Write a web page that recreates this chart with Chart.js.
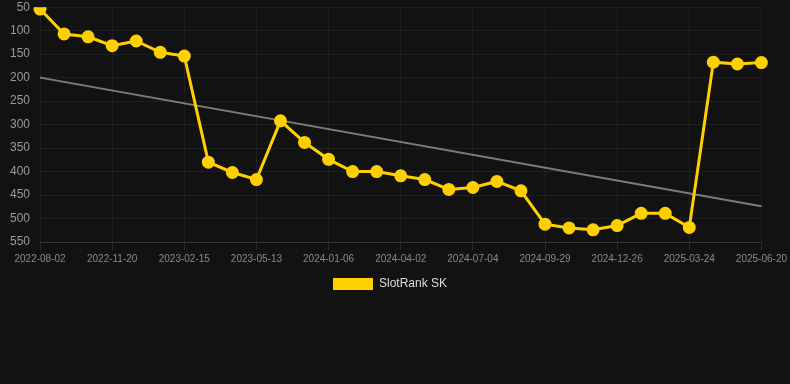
<!DOCTYPE html>
<html>
<head>
<meta charset="utf-8">
<script src="https://cdn.jsdelivr.net/npm/chart.js@4"></script>
<style>
  html, body { margin: 0; padding: 0; background: #121212; }
  #wrap { width: 790px; height: 300px; position: relative; }
</style>
</head>
<body>
<div id="wrap"><canvas id="rank-chart"></canvas></div>
<script>
var dates = [
    '2022-08-02', '2022-09-08', '2022-10-15', '2022-11-20', '2022-12-19', '2023-01-17',
    '2023-02-15', '2023-03-16', '2023-04-14', '2023-05-13', '2023-07-30', '2023-10-18',
    '2024-01-06', '2024-02-04', '2024-03-04', '2024-04-02', '2024-05-03', '2024-06-03',
    '2024-07-04', '2024-08-02', '2024-08-31', '2024-09-29', '2024-10-28', '2024-11-27',
    '2024-12-26', '2025-01-24', '2025-02-22', '2025-03-24', '2025-04-22', '2025-05-21',
    '2025-06-20'
];
var ranks = [
    54, 107, 113, 132, 122, 146,
    154, 380, 402, 417, 292, 338,
    374, 400, 400, 409, 417, 438,
    434, 421, 441, 512, 520, 524,
    515, 489, 489, 519, 167, 171,
    168
];
// trend line: only the two end points, the rest is spanned
var trend = [200];
for (var i = 1; i < dates.length - 1; i++) trend.push(null);
trend.push(474);

var yTicks = { min: 50, max: 550, step: 50 };

var ctx = document.getElementById('rank-chart');

var chart = new Chart(ctx, {
    type: 'line',
    data: {
        labels: dates,
        datasets: [{
            label: 'SlotRank SK',
            data: ranks,
            borderColor: '#ffd000',
            backgroundColor: '#ffd000',
            borderWidth: 3,
            pointRadius: 5,
            pointHoverRadius: 6,
            tension: 0
        }, {
            label: 'trend',
            data: trend,
            spanGaps: true,
            borderColor: 'rgba(160,160,160,0.75)',
            borderWidth: 2,
            pointRadius: 0,
            tension: 0
        }]
    },
    options: {
        animation: false,
        responsive: true,
        maintainAspectRatio: false,
        layout: { autoPadding: false, padding: { left: 10, right: 20, top: 0 } },
        plugins: {
            legend: {
                display: true,
                position: 'bottom',
                labels: {
                    color: '#dddddd',
                    boxWidth: 40,
                    boxHeight: 12,
                    font: { size: 12, family: 'Arial, "Liberation Sans", sans-serif' },
                    generateLabels: function(chart){
                        var items = Chart.defaults.plugins.legend.labels.generateLabels(chart);
                        items.forEach(function(it){ it.lineWidth = 0; });
                        return items.filter(function(it){ return it.datasetIndex === 0; });
                    }
                }
            },
            tooltip: { enabled: false }
        },
        scales: {
            x: {
                grid: { color: 'rgba(255,255,255,0.06)', tickColor: 'rgba(255,255,255,0.1)' },
                border: { color: 'rgba(255,255,255,0.1)' },
                ticks: {
                    color: '#8a8a8a',
                    autoSkip: false,
                    maxRotation: 0,
                    font: { size: 10, family: 'Arial, "Liberation Sans", sans-serif' },
                    callback: function(value, index){
                        return index % 3 === 0 ? this.getLabelForValue(value) : null;
                    }
                }
            },
            y: {
                reverse: true,
                min: yTicks.min,
                max: yTicks.max,
                grid: { color: 'rgba(255,255,255,0.06)', drawTicks: true, tickLength: 10, tickColor: 'rgba(0,0,0,0)' },
                border: { display: false },
                ticks: {
                    stepSize: yTicks.step,
                    color: '#9a9a9a',
                    padding: 0,
                    font: { size: 12, family: 'Arial, "Liberation Sans", sans-serif' }
                }
            }
        }
    }
});
</script>
</body>
</html>
